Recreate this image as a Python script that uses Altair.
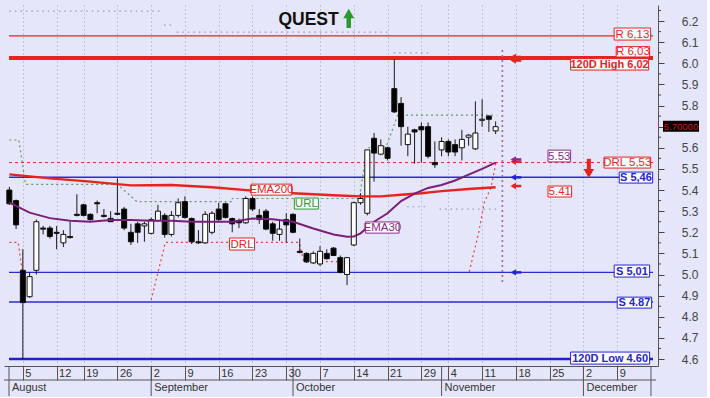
import altair as alt
import pandas as pd

# ---------------- data (x = trading-day index, 0 = 1 Aug 2019) ----------------
opens = [5.40, 5.35, 5.02, 4.895, 5.02, 5.22, 5.22, 5.20, 5.15, 5.18,
         5.285, 5.33, 5.285, 5.34, 5.28, 5.266, 5.29, 5.31, 5.20, 5.24,
         5.23, 5.195, 5.255, 5.28, 5.19, 5.28, 5.345, 5.265, 5.155, 5.15,
         5.20, 5.31, 5.335, 5.265, 5.255, 5.245, 5.36, 5.28, 5.30, 5.24,
         5.19, 5.26, 5.285, 5.11, 5.10, 5.055, 5.05, 5.10, 5.125, 5.08,
         5.00, 5.14, 5.34, 5.29, 5.645, 5.57, 5.60, 5.88, 5.81, 5.615,
         5.685, 5.70, 5.70, 5.53, 5.59, 5.63, 5.615, 5.60, 5.65, 5.595,
         5.73, 5.75, 5.68]
highs = [5.415, 5.355, 5.12, 5.01, 5.26, 5.23, 5.23, 5.23, 5.21, 5.25,
         5.38, 5.335, 5.29, 5.35, 5.31, 5.30, 5.455, 5.32, 5.24, 5.25,
         5.25, 5.27, 5.33, 5.29, 5.30, 5.36, 5.37, 5.27, 5.21, 5.30,
         5.30, 5.34, 5.34, 5.27, 5.265, 5.37, 5.37, 5.31, 5.31, 5.25,
         5.26, 5.29, 5.29, 5.17, 5.105, 5.11, 5.135, 5.12, 5.13, 5.09,
         5.08, 5.345, 5.385, 5.59, 5.67, 5.64, 5.605, 6.02, 5.84, 5.70,
         5.69, 5.72, 5.72, 5.63, 5.65, 5.64, 5.64, 5.685, 5.665, 5.82,
         5.83, 5.755, 5.725]
lows = [5.33, 5.215, 4.60, 4.89, 5.00, 5.19, 5.17, 5.12, 5.13, 5.17,
        5.275, 5.275, 5.255, 5.29, 5.27, 5.25, 5.28, 5.21, 5.14, 5.15,
        5.155, 5.19, 5.25, 5.175, 5.18, 5.27, 5.265, 5.145, 5.145, 5.145,
        5.19, 5.25, 5.265, 5.20, 5.22, 5.24, 5.30, 5.24, 5.21, 5.16,
        5.16, 5.15, 5.195, 5.10, 5.055, 5.05, 5.04, 5.07, 5.09, 5.005,
        4.95, 5.135, 5.33, 5.28, 5.44, 5.565, 5.54, 5.765, 5.61, 5.56,
        5.525, 5.53, 5.55, 5.505, 5.56, 5.56, 5.56, 5.54, 5.61, 5.59,
        5.70, 5.675, 5.665]
closes = [5.335, 5.235, 4.867, 4.99, 5.25, 5.215, 5.18, 5.195, 5.19, 5.175,
          5.28, 5.28, 5.26, 5.335, 5.275, 5.25, 5.285, 5.22, 5.155, 5.20,
          5.24, 5.26, 5.30, 5.19, 5.28, 5.34, 5.27, 5.155, 5.15, 5.285,
          5.29, 5.26, 5.27, 5.24, 5.245, 5.36, 5.31, 5.26, 5.215, 5.195,
          5.215, 5.235, 5.20, 5.105, 5.06, 5.10, 5.11, 5.075, 5.09, 5.01,
          5.08, 5.34, 5.36, 5.59, 5.575, 5.61, 5.55, 5.77, 5.70, 5.665,
          5.675, 5.685, 5.56, 5.52, 5.63, 5.58, 5.58, 5.64, 5.66, 5.67,
          5.735, 5.735, 5.70]

ema30_idx = [0, 3, 6, 9, 12, 15, 18, 21, 24, 27, 30, 33, 36, 39, 42, 45, 48, 50,
             51, 52, 54, 56, 58, 60, 62, 64, 66, 68, 70, 72]
ema30_val = [5.34, 5.293, 5.267, 5.255, 5.25, 5.258, 5.258, 5.255, 5.255, 5.25,
             5.25, 5.25, 5.265, 5.262, 5.25, 5.218, 5.19, 5.179, 5.18, 5.195,
             5.25, 5.29, 5.348, 5.383, 5.41, 5.424, 5.445, 5.473, 5.50, 5.53]
ema200_idx = [0, 6, 12, 18, 24, 30, 36, 42, 48, 52, 55, 58, 61, 64, 68, 72]
ema200_val = [5.474, 5.455, 5.44, 5.422, 5.424, 5.413, 5.397, 5.385, 5.375, 5.37,
              5.37, 5.378, 5.385, 5.395, 5.405, 5.413]

url_idx = [0, 1.4, 2.4, 16, 18.9, 33, 33, 51.8, 53, 55.8, 57.5, 72.1]
url_val = [5.637, 5.637, 5.427, 5.427, 5.345, 5.345, 5.36, 5.36, 5.60, 5.605, 5.755, 5.755]

drl_seg = ["a", "a", "a", "b", "b", "b", "b", "b", "c", "c", "c", "c", "c"]
drl_idx = [0, 1.3, 2.0, 21.0, 23.1, 42.9, 43.6, 49.5, 68.1, 69.5, 70.3, 71.3, 72.05]
drl_val = [5.152, 5.152, 5.0, 4.879, 5.152, 5.152, 5.061, 5.061, 5.013, 5.20, 5.34, 5.41, 5.53]

dot_x1 = [0, 22.9, 24.8, 56.9, 58.9, 63.7]
dot_x2 = [22.4, 24.3, 56.0, 62.3, 61.8, 72.05]
dot_y = [6.247, 6.181, 6.148, 6.049, 5.321, 5.31]

levels = [6.13, 6.03, 6.02, 5.46, 5.01, 4.87, 4.60]
level_col = ["#e8231f", "#e8231f", "#e8231f", "#2b2bd6", "#2b2bd6", "#2b2bd6", "#2020d0"]
level_w = [1.2, 2, 2, 1.5, 1.3, 1.3, 2.4]
drl_level = [5.53]

RED, BLUE, PURPLE, GREEN = "#e8231f", "#2424d4", "#8a2a8a", "#2a9a2a"
lab_text = ["R 6,13", "R 6,03", "120D High 6,02", "DRL 5,53", "S 5,46", "5.53", "5.41",
            "S 5,01", "S 4.87", "120D Low 4.60", "EMA200", "URL", "DRL", "EMA30"]
lab_x1 = [89.55, 89.85, 83.1, 88.05, 90.3, 79.75, 79.75, 89.55, 90.0, 83.1, 35.8, 42.2, 32.6, 52.75]
lab_x2 = [94.95, 94.8, 94.65, 94.95, 95.25, 83.1, 83.25, 94.8, 95.1, 94.8, 41.8, 45.75, 36.3, 57.7]
lab_y1 = [6.110, 6.030, 5.968, 5.504, 5.433, 5.533, 5.367, 4.988, 4.841, 4.576, 5.376, 5.310, 5.116, 5.196]
lab_y2 = [6.167, 6.079, 6.022, 5.556, 5.485, 5.589, 5.419, 5.045, 4.893, 4.633, 5.428, 5.362, 5.173, 5.249]
lab_col = [RED, RED, RED, RED, BLUE, PURPLE, RED, BLUE, BLUE, BLUE, RED, GREEN, RED, PURPLE]
lab_bold = [False, False, True, False, True, False, False, True, True, True, False, False, False, False]

arr_level = [6.03, 6.013, 5.534, 5.545, 5.46, 5.419, 5.01]
arr_col = [RED, RED, RED, PURPLE, BLUE, RED, BLUE]

tick_idx = [2, 7, 11, 16, 21, 26, 31, 36, 41, 46, 51, 56, 61, 65, 70, 75, 80, 85, 90]
tick_lbl = ["5", "12", "19", "26", "2", "9", "16", "23", "30", "7", "14", "21", "29",
            "4", "11", "18", "25", "2", "9"]
month_idx = [-0.05, 21, 42, 64, 85]
month_lbl = ["August", "September", "October", "November", "December"]
y_ticks = [4.6, 4.7, 4.8, 4.9, 5.0, 5.1, 5.2, 5.3, 5.4, 5.5, 5.6, 5.7, 5.8, 5.9, 6.0, 6.1, 6.2]
y_minor = [4.65, 4.75, 4.85, 4.95, 5.05, 5.15, 5.25, 5.35, 5.45, 5.55, 5.65, 5.75,
           5.85, 5.95, 6.05, 6.15, 6.25]

# ---------------- layout ----------------
W, H = 654, 361
LAV = "#e6e6fa"
FONT = "Liberation Sans"
XMIN, XMAX = -0.05, 95.3
xs = alt.Scale(domain=[XMIN, XMAX], nice=False, zero=False)
ys = alt.Scale(domain=[4.567, 6.276], nice=False, zero=False)

candles = pd.DataFrame({"i": list(range(len(opens))), "open": opens, "high": highs,
                        "low": lows, "close": closes})
candles["dir"] = ["up" if c >= o else "down" for o, c in zip(opens, closes)]

label_expr = " : ".join(f"datum.value == {i} ? '{l}'" for i, l in zip(tick_idx, tick_lbl)) + " : ''"
xaxis = alt.Axis(values=tick_idx, labelExpr=label_expr, tickSize=14, tickColor="#555555",
                 labelAlign="left", labelBaseline="top", labelPadding=-13, labelOffset=2,
                 labelFontSize=11, labelColor="#333333", labelFont=FONT, labelFlush=False,
                 labelOverlap=False, domainColor="#555555", grid=True, gridColor="#a0a0b4",
                 gridDash=[1, 3], title=None)
last_close = closes[-1]
yaxis = alt.Axis(orient="right", values=y_ticks, tickSize=6, tickColor="#444444",
                 labelExpr=f"abs(datum.value - {last_close}) < 0.03 ? '' : format(datum.value, '.1f')",
                 labelAlign="right", labelPadding=34, labelFontSize=12, labelColor="#444444",
                 labelFont=FONT, labelFlush=False, labelOverlap=False, domainColor="#555555",
                 grid=False, title=None)

X = lambda f: alt.X(f, type="quantitative", scale=xs, axis=xaxis)
Y = lambda f: alt.Y(f, type="quantitative", scale=ys, axis=yaxis)

layers = []

# horizontal level lines
lev = pd.DataFrame({"y": levels, "c": level_col, "w": level_w,
                    "xa": [XMIN] * len(levels), "xb": [XMAX] * len(levels)})
layers.append(alt.Chart(lev).mark_rule().encode(
    x=X("xa"), x2="xb", y=Y("y"),
    color=alt.Color("c:N", scale=None), strokeWidth=alt.StrokeWidth("w:Q", scale=None)))
layers.append(alt.Chart(pd.DataFrame({"y": drl_level, "xa": [XMIN], "xb": [XMAX]})).mark_rule(
    color=RED, strokeDash=[3, 3], strokeWidth=1).encode(x=X("xa"), x2="xb", y=Y("y")))

# dotted gray segments
dots = pd.DataFrame({"x1": dot_x1, "x2": dot_x2, "y": dot_y})
layers.append(alt.Chart(dots).mark_rule(color="#9a9aa8", strokeDash=[1.5, 4], strokeWidth=1.2).encode(
    x=X("x1"), x2="x2", y=Y("y")))

# URL and DRL step lines
layers.append(alt.Chart(pd.DataFrame({"i": url_idx, "v": url_val, "o": range(len(url_idx))})).mark_line(
    color="#5f9a5f", strokeDash=[2, 3], strokeWidth=1.2).encode(x=X("i"), y=Y("v"), order="o:Q"))
layers.append(alt.Chart(pd.DataFrame({"s": drl_seg, "i": drl_idx, "v": drl_val,
                                      "o": range(len(drl_idx))})).mark_line(
    color="#e84040", strokeDash=[2, 3], strokeWidth=1.2).encode(
    x=X("i"), y=Y("v"), detail="s:N", order="o:Q"))

# candles
layers.append(alt.Chart(candles).mark_rule(color="#1a1a1a", strokeWidth=1).encode(
    x=X("i"), y=Y("low"), y2="high"))
layers.append(alt.Chart(candles).mark_bar(size=5, stroke="#111111", strokeWidth=1).encode(
    x=X("i"), y=Y("open"), y2="close",
    fill=alt.Fill("dir:N", scale=alt.Scale(domain=["up", "down"], range=["#ffffff", "#000000"]),
                  legend=None)))

# EMAs
layers.append(alt.Chart(pd.DataFrame({"i": ema200_idx, "v": ema200_val})).mark_line(
    color="#e8231f", strokeWidth=2.4).encode(x=X("i"), y=Y("v")))
layers.append(alt.Chart(pd.DataFrame({"i": ema30_idx, "v": ema30_val})).mark_line(
    color="#7a1e7a", strokeWidth=2).encode(x=X("i"), y=Y("v")))

# vertical "today" dotted line
layers.append(alt.Chart(pd.DataFrame({"i": [73.0], "a": [6.063], "b": [4.96]})).mark_rule(
    color="#9a6aa6", strokeDash=[2, 3], strokeWidth=1.6).encode(x=X("i"), y=Y("a"), y2="b"))

# label boxes
labs = pd.DataFrame({"t": lab_text, "x1": lab_x1, "x2": lab_x2, "y1": lab_y1, "y2": lab_y2,
                     "c": lab_col, "b": lab_bold})
labs["xm"] = (labs.x1 + labs.x2) / 2
labs["ym"] = (labs.y1 + labs.y2) / 2
layers.append(alt.Chart(labs).mark_rect(fill="#ffffff", strokeWidth=1).encode(
    x=X("x1"), x2="x2", y=Y("y1"), y2="y2", stroke=alt.Stroke("c:N", scale=None)))
layers.append(alt.Chart(labs[~labs.b]).mark_text(font=FONT, fontSize=11.5, baseline="middle",
                                                 align="center", dy=0.5).encode(
    x=X("xm"), y=Y("ym"), text="t:N", color=alt.Color("c:N", scale=None)))
layers.append(alt.Chart(labs[labs.b]).mark_text(font=FONT, fontSize=11, fontWeight="bold",
                                                baseline="middle", align="center", dy=0.5).encode(
    x=X("xm"), y=Y("ym"), text="t:N", color=alt.Color("c:N", scale=None)))

# small left arrows
arr = pd.DataFrame({"y": arr_level, "c": arr_col, "h": [74.6] * len(arr_level),
                    "t": [75.8] * len(arr_level)})
layers.append(alt.Chart(arr).mark_rule(strokeWidth=2.5).encode(
    x=X("h"), x2="t", y=Y("y"), color=alt.Color("c:N", scale=None)))
layers.append(alt.Chart(arr).mark_point(shape="triangle-left", filled=True, size=40, opacity=1).encode(
    x=X("h"), y=Y("y"), color=alt.Color("c:N", scale=None)))

# red down arrow
layers.append(alt.Chart(pd.DataFrame({"i": [85.8], "a": [5.548], "b": [5.49]})).mark_rule(
    color=RED, strokeWidth=4).encode(x=X("i"), y=Y("a"), y2="b"))
layers.append(alt.Chart(pd.DataFrame({"i": [85.8], "y": [5.478]})).mark_point(
    shape="triangle-down", filled=True, size=110, color=RED, opacity=1).encode(x=X("i"), y=Y("y")))

# title with green arrow
layers.append(alt.Chart(pd.DataFrame({"i": [44.3], "y": [6.205], "t": ["QUEST"]})).mark_text(
    font=FONT, fontSize=17.5, fontWeight="bold", color="#111111", baseline="middle").encode(
    x=X("i"), y=Y("y"), text="t:N"))
layers.append(alt.Chart(pd.DataFrame({"i": [50.25], "a": [6.222], "b": [6.167]})).mark_rule(
    color=GREEN, strokeWidth=4.5).encode(x=X("i"), y=Y("a"), y2="b"))
layers.append(alt.Chart(pd.DataFrame({"i": [50.25], "y": [6.236]})).mark_point(
    shape="triangle-up", filled=True, size=120, color=GREEN, opacity=1).encode(x=X("i"), y=Y("y")))

# minor ticks on the right axis
layers.append(alt.Chart(pd.DataFrame({"y": y_minor})).mark_rule(color="#444444").encode(
    x=alt.value(W), x2=alt.value(W + 3), y=Y("y")))

# last price box
lp = pd.DataFrame({"y": [last_close], "t": [f"{last_close:.5f}"]})
layers.append(alt.Chart(lp).mark_rect(color="#000000", yOffset=-6, y2Offset=5).encode(
    x=alt.value(W + 5), x2=alt.value(W + 41), y=Y("y"), y2="y"))
layers.append(alt.Chart(lp).mark_text(font=FONT, fontSize=9.5, color="#d01818", baseline="middle",
                                      align="center").encode(
    x=alt.value(W + 23), y=Y("y"), text="t:N"))

# x-axis second row (months) and row separators
layers.append(alt.Chart(pd.DataFrame({"a": [0]})).mark_rule(color="#555555").encode(
    x=alt.value(0), x2=alt.value(W - 2), y=alt.value(H + 14)))
mon = pd.DataFrame({"i": month_idx, "m": month_lbl})
layers.append(alt.Chart(mon).mark_rule(color="#555555").encode(
    x=X("i"), y=alt.value(H), y2=alt.value(H + 30)))
layers.append(alt.Chart(pd.DataFrame({"i": [95.0]})).mark_rule(color="#555555").encode(
    x=X("i"), y=alt.value(H), y2=alt.value(H + 30)))
layers.append(alt.Chart(mon).mark_text(font=FONT, fontSize=11, color="#333333", align="left",
                                       baseline="middle", dx=3).encode(
    x=X("i"), y=alt.value(H + 22), text="m:N"))

chart = alt.layer(*layers).properties(
    width=W, height=H, background=LAV,
    padding={"left": 3, "top": 5, "right": 8, "bottom": 0}
).configure_view(stroke="transparent", fill=LAV)

chart.save("out.html", embed_options={"renderer": "svg", "actions": False})
